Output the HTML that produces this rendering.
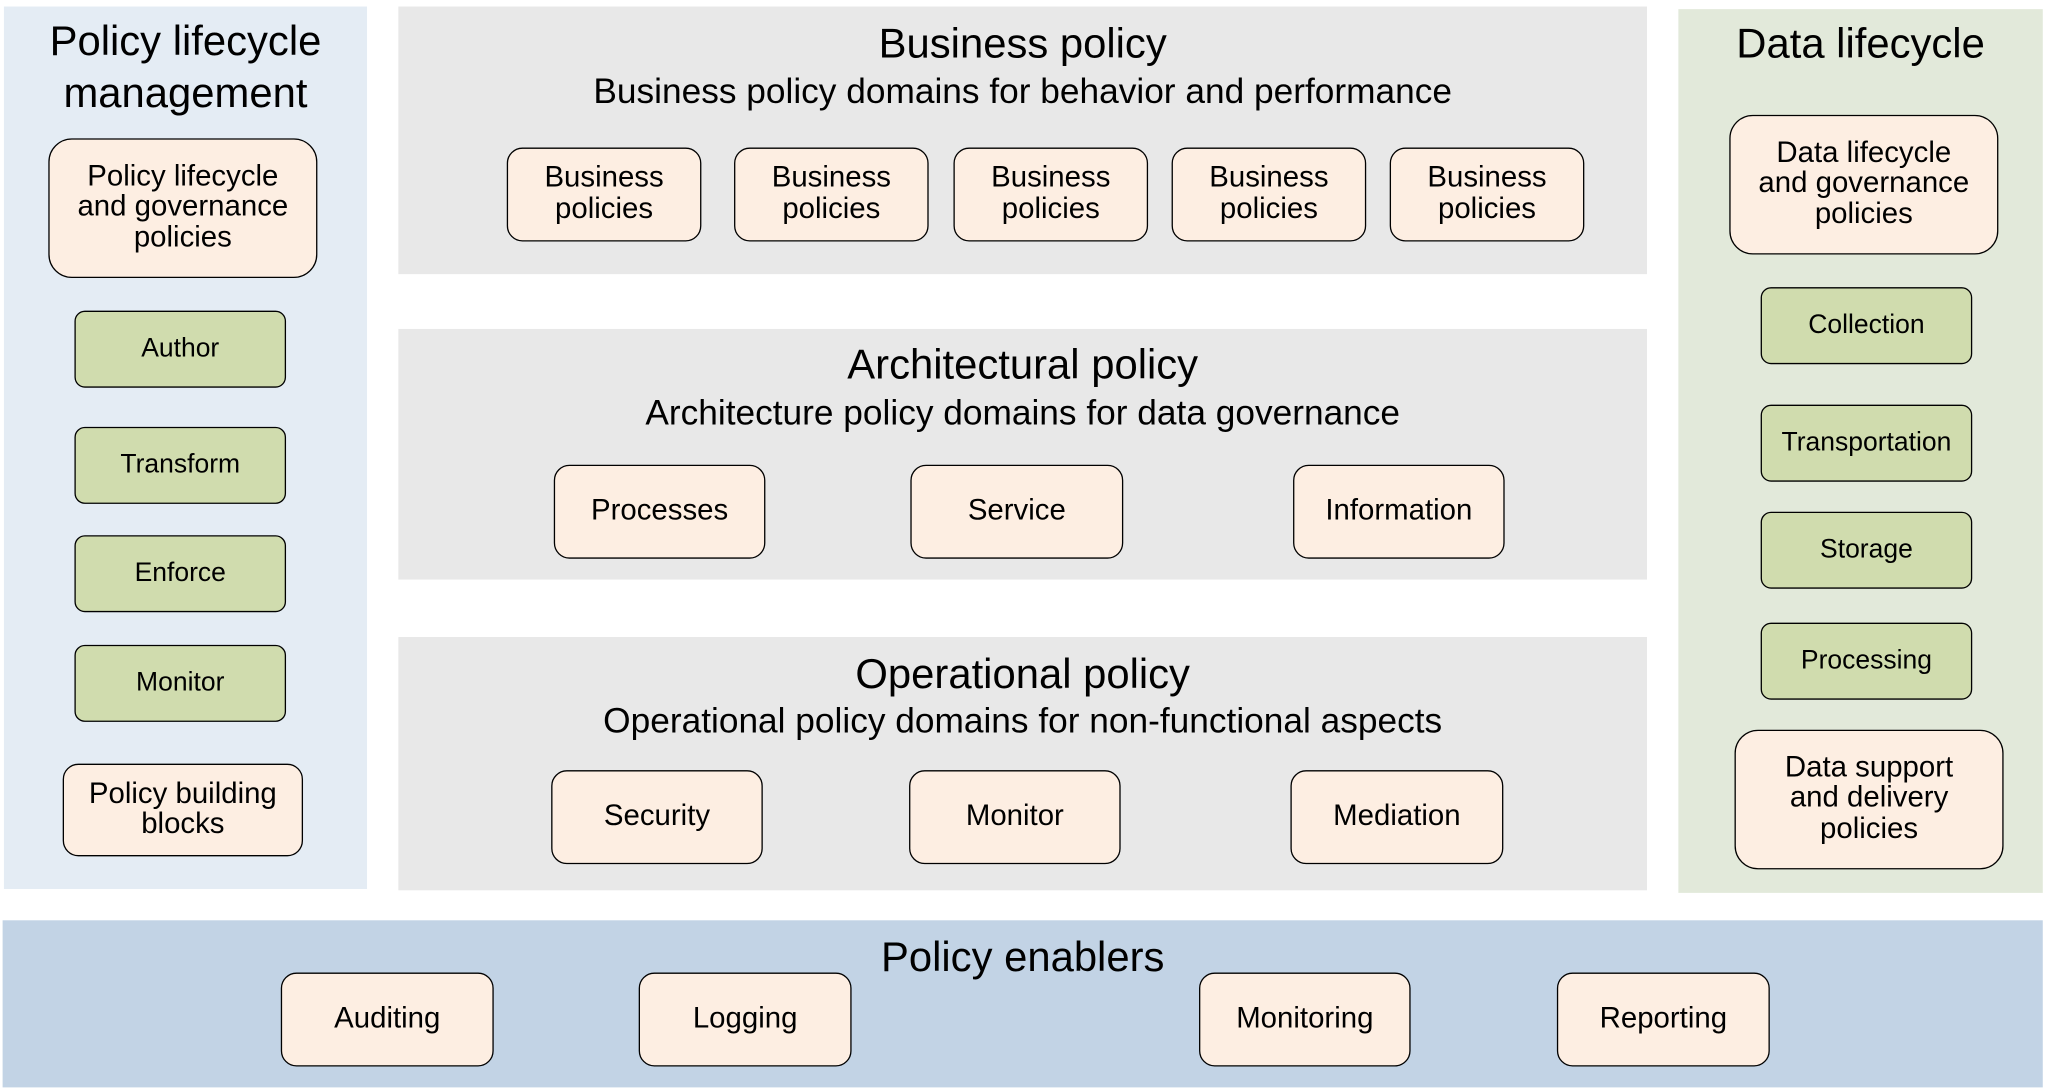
<!DOCTYPE html>
<html><head><meta charset="utf-8"><style>
html,body{margin:0;padding:0;background:#fff;width:2048px;height:1090px;overflow:hidden}
#w{position:absolute;left:0;top:0;width:1568px;height:835px;transform:scale(1.30612,1.30539);transform-origin:0 0;font-family:"Liberation Sans",Arial,sans-serif;color:#000}
.p{position:absolute}
.b{position:absolute;box-sizing:border-box;border:1.8px solid #000;border-radius:12px;background:#fdeee2;display:flex;align-items:center;justify-content:center;text-align:center;font-size:22.5px;line-height:23.5px;padding-bottom:3px}
.g{background:#d0dcae;font-size:20.3px;border-radius:8px;padding-bottom:0}
.big{border-radius:18px}
.t{position:absolute;text-align:center;white-space:nowrap}
.h{font-size:32px}
.s{font-size:27px}
</style></head><body><div id="w">
<div class="p" style="left:3px;top:5px;width:278px;height:676px;background:#e4ecf4"></div>
<div class="p" style="left:305px;top:5px;width:956px;height:205px;background:#e8e8e8"></div>
<div class="p" style="left:305px;top:252px;width:956px;height:192px;background:#e8e8e8"></div>
<div class="p" style="left:305px;top:488px;width:956px;height:194px;background:#e8e8e8"></div>
<div class="p" style="left:1285px;top:7px;width:279px;height:677px;background:#e2e9da"></div>
<div class="p" style="left:2px;top:705px;width:1562px;height:128px;background:#c2d3e5"></div>

<div class="t h" style="left:3px;width:278px;top:11px;line-height:40px">Policy lifecycle<br>management</div>
<div class="b big" style="left:37px;top:106px;width:206px;height:107px">Policy lifecycle<br>and governance<br>policies</div>
<div class="b g" style="left:57px;top:238px;width:162px;height:59px">Author</div>
<div class="b g" style="left:57px;top:327px;width:162px;height:59px">Transform</div>
<div class="b g" style="left:57px;top:410px;width:162px;height:59px">Enforce</div>
<div class="b g" style="left:57px;top:494px;width:162px;height:59px">Monitor</div>
<div class="b" style="left:48px;top:585px;width:184px;height:71px">Policy building<br>blocks</div>

<div class="t h" style="left:305px;width:956px;top:15px">Business policy</div>
<div class="t s" style="left:305px;width:956px;top:55px">Business policy domains for behavior and performance</div>
<div class="b" style="left:388px;top:113px;width:149px;height:72px">Business<br>policies</div>
<div class="b" style="left:562px;top:113px;width:149px;height:72px">Business<br>policies</div>
<div class="b" style="left:730px;top:113px;width:149px;height:72px">Business<br>policies</div>
<div class="b" style="left:897px;top:113px;width:149px;height:72px">Business<br>policies</div>
<div class="b" style="left:1064px;top:113px;width:149px;height:72px">Business<br>policies</div>

<div class="t h" style="left:305px;width:956px;top:261px">Architectural policy</div>
<div class="t s" style="left:305px;width:956px;top:301px">Architecture policy domains for data governance</div>
<div class="b" style="left:424px;top:356px;width:162px;height:72px">Processes</div>
<div class="b" style="left:697px;top:356px;width:163px;height:72px">Service</div>
<div class="b" style="left:990px;top:356px;width:162px;height:72px">Information</div>

<div class="t h" style="left:305px;width:956px;top:498px">Operational policy</div>
<div class="t s" style="left:305px;width:956px;top:537px">Operational policy domains for non-functional aspects</div>
<div class="b" style="left:422px;top:590px;width:162px;height:72px">Security</div>
<div class="b" style="left:696px;top:590px;width:162px;height:72px">Monitor</div>
<div class="b" style="left:988px;top:590px;width:163px;height:72px">Mediation</div>

<div class="t h" style="left:1285px;width:279px;top:15px">Data lifecycle</div>
<div class="b big" style="left:1324px;top:88px;width:206px;height:107px">Data lifecycle<br>and governance<br>policies</div>
<div class="b g" style="left:1348px;top:220px;width:162px;height:59px">Collection</div>
<div class="b g" style="left:1348px;top:310px;width:162px;height:59px">Transportation</div>
<div class="b g" style="left:1348px;top:392px;width:162px;height:59px">Storage</div>
<div class="b g" style="left:1348px;top:477px;width:162px;height:59px">Processing</div>
<div class="b big" style="left:1328px;top:559px;width:206px;height:107px">Data support<br>and delivery<br>policies</div>

<div class="t h" style="left:305px;width:956px;top:715px">Policy enablers</div>
<div class="b" style="left:215px;top:745px;width:163px;height:72px">Auditing</div>
<div class="b" style="left:489px;top:745px;width:163px;height:72px">Logging</div>
<div class="b" style="left:918px;top:745px;width:162px;height:72px">Monitoring</div>
<div class="b" style="left:1192px;top:745px;width:163px;height:72px">Reporting</div>
</div></body></html>
